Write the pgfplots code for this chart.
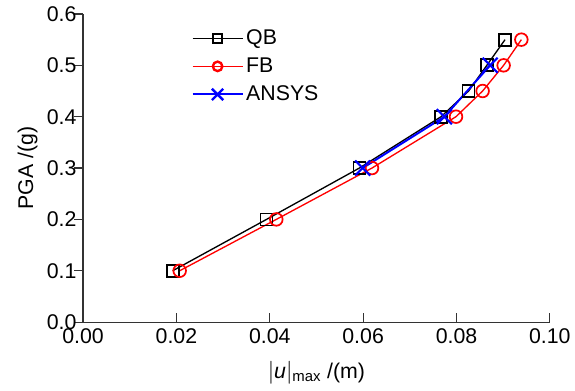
\documentclass[border=0pt]{standalone}
\usepackage{fontspec}
\setmainfont{Liberation Sans}
\usepackage{pgfplots}
\pgfplotsset{compat=1.18}
\begin{document}
\begin{tikzpicture}
\begin{axis}[
  scale only axis,
  width=350.6pt, height=231.45pt,
  xmin=0, xmax=0.1, ymin=0, ymax=0.6,
  axis lines=left,
  axis line style={-, line width=0.9pt, black!80},
  xtick={0,0.02,0.04,0.06,0.08,0.1},
  ytick={0,0.1,0.2,0.3,0.4,0.5,0.6},
  tick align=inside,
  major tick length=6.5pt,
  tick style={line width=0.9pt, black!80},
  ytick style={xshift=-6.5pt},
  xticklabel style={/pgf/number format/fixed, /pgf/number format/fixed zerofill, /pgf/number format/precision=2, yshift=-1.5pt},
  yticklabel style={/pgf/number format/fixed, /pgf/number format/fixed zerofill, /pgf/number format/precision=1, xshift=-1.5pt},
  scaled x ticks=false,
  /pgf/number format/assume math mode=true,
  tick label style={font=\fontsize{16}{19}\selectfont},
  label style={font=\fontsize{16}{19}\selectfont},
  xlabel={$|$\textit{u}$|$\textsubscript{max} /(m)},
  ylabel={PGA /(g)},
  xlabel style={yshift=-6pt},
  legend style={draw=none, fill=none, at={(0.232,0.958)}, anchor=north west,
    font=\fontsize{16}{19}\selectfont, row sep=4.5pt, inner sep=0pt},
  legend cell align=left,
  legend image code/.code={\draw[mark repeat=2,mark phase=2,every mark/.append style={scale=0.75,line width=1.8pt}] plot coordinates {(0pt,0pt) (18.75pt,0pt) (37.5pt,0pt)};},
]
\coordinate (ll) at (rel axis cs:0,0);
\coordinate (ur) at (rel axis cs:1,1);
\addplot[black, line width=1pt, mark=square, mark size=4.5pt, mark options={line width=1.3pt}]
  coordinates {(0.0192,0.1) (0.0393,0.2) (0.0592,0.3) (0.0767,0.4) (0.0826,0.45) (0.0865,0.5) (0.0904,0.55)};
\addlegendentry{QB}
\addplot[red, line width=1pt, mark=o, mark size=4.75pt, mark options={line width=1.3pt}]
  coordinates {(0.0207,0.1) (0.0414,0.2) (0.0619,0.3) (0.0799,0.4) (0.0856,0.45) (0.0901,0.5) (0.0939,0.55)};
\addlegendentry{FB}
\addplot[blue, line width=1.5pt, mark=x, mark size=8pt, mark options={line width=1.6pt}]
  coordinates {(0.0599,0.3) (0.0774,0.4) (0.0872,0.5)};
\addlegendentry{ANSYS}
\end{axis}
\useasboundingbox ([xshift=-62.4pt,yshift=-51.3pt]ll) rectangle ([xshift=18.2pt,yshift=10.5pt]ur);
\end{tikzpicture}
\end{document}
